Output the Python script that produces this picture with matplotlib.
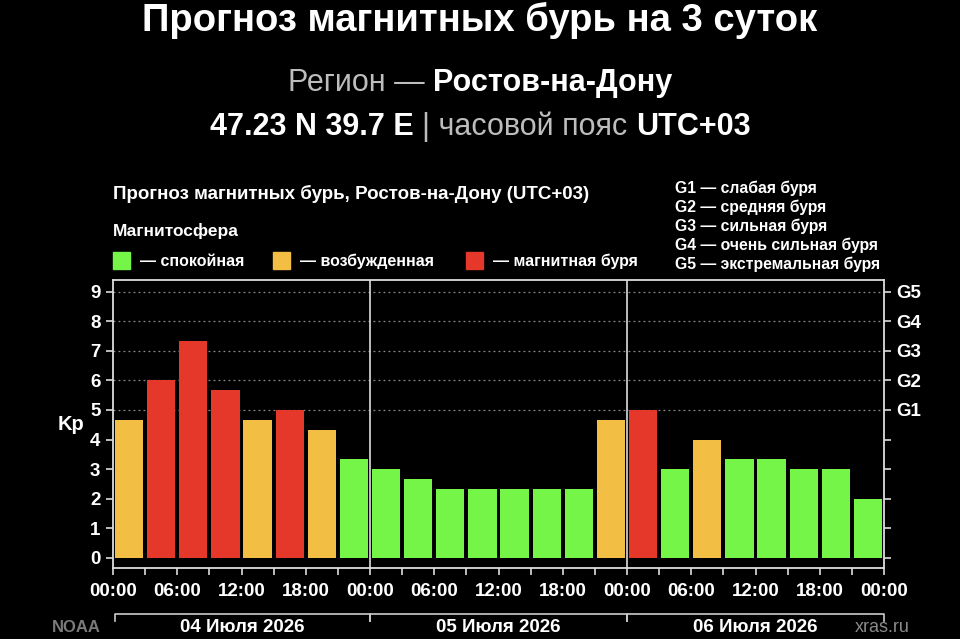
import matplotlib
matplotlib.use('Agg')
import matplotlib.pyplot as plt
import numpy as np

# данные
kp = [4.67, 6.0, 7.33, 5.67, 4.67, 5.0, 4.33, 3.33,
      3.0, 2.67, 2.33, 2.33, 2.33, 2.33, 2.33, 4.67,
      5.0, 3.0, 4.0, 3.33, 3.33, 3.0, 3.0, 2.0]
state = ['o', 'r', 'r', 'r', 'o', 'r', 'o', 'g',
         'g', 'g', 'g', 'g', 'g', 'g', 'g', 'o',
         'r', 'g', 'o', 'g', 'g', 'g', 'g', 'g']
time_labels = ['00:00', '06:00', '12:00', '18:00'] * 3 + ['00:00']
days = ['04 Июля 2026', '05 Июля 2026', '06 Июля 2026']
g_labels = ['G1', 'G2', 'G3', 'G4', 'G5']
g_legend = ['G1 — слабая буря', 'G2 — средняя буря', 'G3 — сильная буря',
            'G4 — очень сильная буря', 'G5 — экстремальная буря']
legend_names = ['— спокойная', '— возбужденная', '— магнитная буря']

colors = {'g': '#74F548', 'o': '#F2BE44', 'r': '#E6372B'}
WHITE = '#FFFFFF'

plt.rcParams['font.family'] = ['Liberation Sans', 'DejaVu Sans']

fig = plt.figure(figsize=(9.6, 6.39), dpi=100)
fig.patch.set_facecolor('black')
W, H = 960.0, 639.0

def fx(px):
    return px / W

def fy(py):
    return 1 - py / H

renderer = fig.canvas.get_renderer()

# строка из нескольких кусков текста с разным начертанием
def line(pieces, y, size):
    texts = []
    for s, weight, col in pieces:
        t = fig.text(0, fy(y), s, fontsize=size, fontweight=weight, color=col,
                     va='center', ha='left')
        texts.append(t)
    widths = [t.get_window_extent(renderer).width / W for t in texts]
    start = 0.5 - sum(widths) / 2
    for t, w in zip(texts, widths):
        t.set_x(start)
        start += w

line([('Прогноз магнитных бурь на 3 суток', 'bold', WHITE)], 20, 27.5)
line([('Регион — ', 'normal', '#BDBDBD'), ('Ростов-на-Дону', 'bold', WHITE)], 83, 22)
line([('47.23 N 39.7 E ', 'bold', WHITE), ('| часовой пояс ', 'normal', '#BDBDBD'),
      ('UTC+03', 'bold', WHITE)], 127, 22)

fig.text(fx(113), fy(194), 'Прогноз магнитных бурь, Ростов-на-Дону (UTC+03)',
         fontsize=13.5, fontweight='bold', color=WHITE, va='center')
fig.text(fx(113), fy(231), 'Магнитосфера', fontsize=12.5, fontweight='bold',
         color=WHITE, va='center')

leg_x = [113, 273, 466]
for px, key, name in zip(leg_x, ['g', 'o', 'r'], legend_names):
    fig.patches.append(plt.Rectangle((fx(px), fy(269)), fx(17), 1 - fy(17),
                                     transform=fig.transFigure, color=colors[key]))
    fig.text(fx(px + 27), fy(261), name, fontsize=11.5, fontweight='bold',
             color=WHITE, va='center')

for i, s in enumerate(g_legend):
    fig.text(fx(675), fy(188 + i * 19), s, fontsize=11.3, fontweight='bold',
             color=WHITE, va='center')

# график
ax = fig.add_axes([fx(113), fy(568), fx(884 - 113), (568 - 280) / H])
ax.set_facecolor('black')
x = np.arange(len(kp))
ax.bar(x + 0.5, kp, width=0.88, color=[colors[s] for s in state],
       edgecolor='none', zorder=3)
ax.set_xlim(0, len(kp))
ax.set_ylim(-0.35, 9.4)

for v in range(5, 10):
    ax.axhline(v, color='#8A8A8A', lw=0.9, ls=(0, (1.5, 2.5)), zorder=1)
for d in (8, 16):
    ax.axvline(d, color='#DDDDDD', lw=1.2, zorder=4)

for sp in ax.spines.values():
    sp.set_color('#DDDDDD')
    sp.set_linewidth(1.3)

ax.set_xticks(np.arange(0, 25, 2))
ax.set_xticklabels(time_labels)
ax.set_xticks(np.arange(1, 25, 2), minor=True)
ax.tick_params(axis='x', which='both', colors='#DDDDDD', length=5, width=1.2,
               labelcolor=WHITE, labelsize=13.5, pad=6)
for t in ax.get_xticklabels():
    t.set_fontweight('bold')

ax.set_yticks(range(10))
ax.tick_params(axis='y', colors='#DDDDDD', length=5, width=1.2,
               labelcolor=WHITE, labelsize=13.5, pad=4)
for t in ax.get_yticklabels():
    t.set_fontweight('bold')
ax.set_ylabel('Kp', color=WHITE, fontsize=14.5, fontweight='bold', rotation=0,
              labelpad=14, va='center')

ax2 = ax.twinx()
ax2.set_ylim(ax.get_ylim())
ax2.set_yticks(range(10))
ax2.set_yticklabels([''] * 5 + g_labels)
ax2.tick_params(axis='y', colors='#DDDDDD', length=5, width=1.2,
                labelcolor=WHITE, labelsize=13.5, pad=4)
for t in ax2.get_yticklabels():
    t.set_fontweight('bold')
for sp in ax2.spines.values():
    sp.set_visible(False)

# скобки с датами
for i, d in enumerate(days):
    x0 = 0.003 + i * 8 / 24 if i == 0 else i * 8 / 24
    x1 = (i + 1) * 8 / 24
    ax.plot([x0, x0, x1, x1], [-0.185, -0.16, -0.16, -0.185], transform=ax.transAxes,
            color='#CCCCCC', lw=1.2, clip_on=False)
    ax.text((x0 + x1) / 2, -0.205, d, transform=ax.transAxes, ha='center',
            va='center', fontsize=13.5, fontweight='bold', color=WHITE)

fig.text(fx(52), fy(628), 'NOAA', fontsize=12, fontweight='bold', color='#7A7A7A',
         va='center')
fig.text(fx(855), fy(628), 'xras.ru', fontsize=13, color='#8A8A8A', va='center')

plt.savefig('out.png', dpi=100, facecolor='black')
